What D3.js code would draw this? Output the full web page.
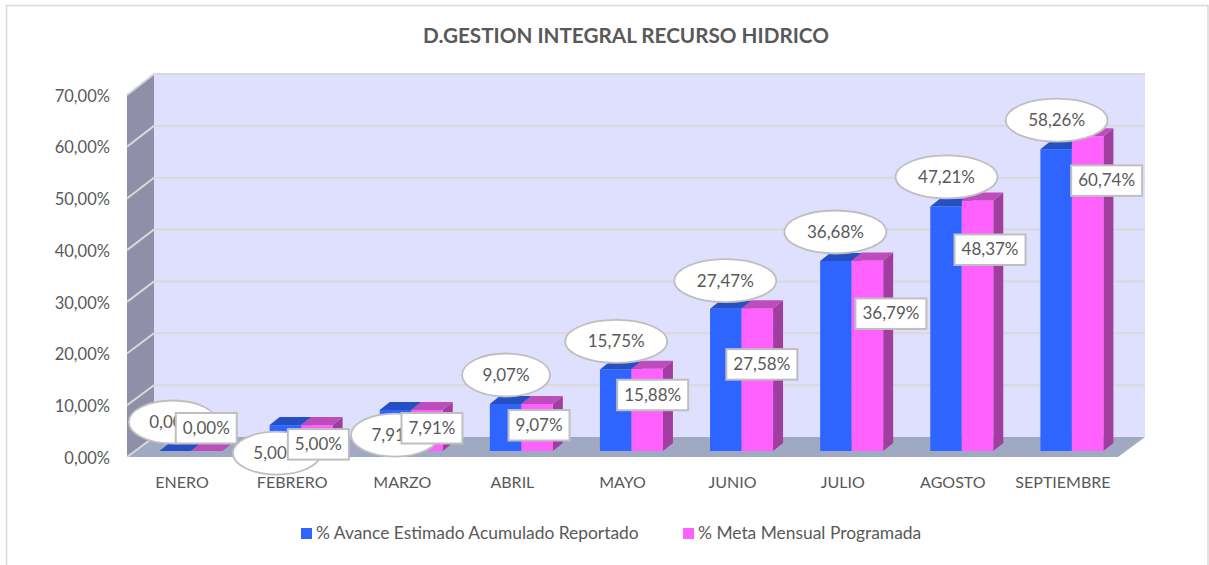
<!DOCTYPE html>
<html><head><meta charset="utf-8">
<style>html,body{margin:0;padding:0;background:#fff}svg{display:block}text{font-family:Lato,Carlito,sans-serif;fill:#595959}</style>
<script src="https://cdn.jsdelivr.net/npm/d3@7"></script></head>
<body><svg id="c" width="1209" height="565"></svg>
<script>
const months=["ENERO","FEBRERO","MARZO","ABRIL","MAYO","JUNIO","JULIO","AGOSTO","SEPTIEMBRE"];
const avance=[0,5,7.91,9.07,15.75,27.47,36.68,47.21,58.26];
const meta=[0,5,7.91,9.07,15.88,27.58,36.79,48.37,60.74];
const yTicks=[0,10,20,30,40,50,60,70];
const seriesNames=["% Avance Estimado Acumulado Reportado","% Meta Mensual Programada"];
const titleText="D.GESTION INTEGRAL RECURSO HIDRICO";
// hand-placed label offsets, relative to the top of each bar
const ellipseNudge=[[-3,-29],[-9,28],[-1,25],[0,-29],[0,-28],[-1,-28],[-1,-29],[0,-29.5],[0,-29]];
const boxNudge=[[-1,-23],[1,19],[4.5,18],[1.5,21],[5,26],[4,56],[23,53],[12,49],[18.5,44]];

const svg=d3.select("#c");
const fmt=d3.formatLocale({decimal:",",thousands:".",grouping:[3],currency:["",""]}).format(".2f");
const pct=v=>fmt(v)+"%";
const L=127,R=1118,DX=27;
const x=d3.scaleBand().domain(months).range([L,R]);
const y=d3.scaleLinear().domain([0,70]).range([457,95]);
const yb=d3.scaleLinear().domain([0,70]).range([437,74]);
const yBar=d3.scaleLinear().domain([0,70]).range([451,88.4]);
const barW=31.5,dp=[10,-8];
const poly=p=>p.map(d=>d.join(",")).join(" ");

svg.append("rect").attr("x",6.5).attr("y",5.5).attr("width",1201.5).attr("height",570).attr("fill","#fff").attr("stroke","#d9d9d9").attr("stroke-width",1.5);
// title
svg.append("text").attr("x",626).attr("y",43).attr("text-anchor","middle").attr("font-size",20.7).attr("font-weight",700).text(titleText);
// walls
svg.append("polygon").attr("points",poly([[L+DX,yb(70)],[R+DX,yb(70)],[R+DX,yb(0)],[L+DX,yb(0)]])).attr("fill","#dfdffe");
svg.append("polygon").attr("points",poly([[L,y(70)],[L+DX,yb(70)],[L+DX,yb(0)],[L,y(0)]])).attr("fill","#8f8fa9");
svg.append("polygon").attr("points",poly([[L,y(0)],[L+DX,yb(0)],[R+DX,yb(0)],[R,y(0)]])).attr("fill","#9fa9c1");
// grid
const g=svg.append("g").attr("fill","none").attr("stroke","#d9d9d9").attr("stroke-width",2);
yTicks.forEach(t=>{
  g.append("polyline").attr("points",poly([[L,y(t)],[L+DX,yb(t)],[R+DX,yb(t)]].slice(0,t===0?2:3)));
});
// axes
const ya=svg.append("g").attr("transform",`translate(${L-17},1)`)
  .call(d3.axisLeft(y).tickValues(yTicks).tickSize(0).tickPadding(0).tickFormat(pct));
ya.select(".domain").remove();
ya.selectAll("text").attr("font-size",16.5).style("font-family","Lato,Carlito,sans-serif").attr("fill","#595959");
const xa=svg.append("g").attr("transform","translate(0,475)")
  .call(d3.axisBottom(x).tickSize(0).tickPadding(0));
xa.select(".domain").remove();
xa.selectAll("text").attr("font-size",16).attr("dy","0.8em").style("font-family","Lato,Carlito,sans-serif").attr("fill","#595959");

// bars
const colors=[{f:"#2e64ff",t:"#2450c3",s:"#2149b0"},{f:"#ff61ff",t:"#bd4cbd",s:"#a03ea0"}];
function bar(gp,x0,val,c){
  const t=yBar(val),b=yBar(0);
  gp.append("polygon").attr("points",poly([[x0+barW,t],[x0+barW+dp[0],t+dp[1]],[x0+barW+dp[0],b+dp[1]],[x0+barW,b]])).attr("fill",c.s);
  gp.append("rect").attr("x",x0).attr("y",t).attr("width",barW).attr("height",b-t).attr("fill",c.f);
  gp.append("polygon").attr("points",poly([[x0,t],[x0+dp[0],t+dp[1]],[x0+barW+dp[0],t+dp[1]],[x0+barW,t]])).attr("fill",c.t);
}
const barsG=svg.append("g");
months.forEach((m,i)=>{
  const gp=barsG.append("g");
  const x0=x(m)+32.5;
  bar(gp,x0,avance[i],colors[0]);
  bar(gp,x0+barW,meta[i],colors[1]);
});
// labels
const lab=svg.append("g");
months.forEach((m,i)=>{
  const x0=x(m)+33;
  const wide=avance[i]>=10;
  const ex=x0+barW/2+ellipseNudge[i][0], ey=yBar(avance[i])+ellipseNudge[i][1];
  lab.append("ellipse").attr("cx",ex).attr("cy",ey).attr("rx",wide?51:44).attr("ry",21.5).attr("fill","#fff").attr("stroke","#bfbfbf").attr("stroke-width",1.8);
  lab.append("text").attr("x",ex).attr("y",ey+6).attr("text-anchor","middle").attr("font-size",17).text(pct(avance[i]));
});
months.forEach((m,i)=>{
  const x0=x(m)+33;
  const w=meta[i]>=10?71:61;
  const bx=x0+barW*1.5+boxNudge[i][0], by=yBar(meta[i])+boxNudge[i][1];
  lab.append("rect").attr("x",bx-w/2).attr("y",by-15).attr("width",w).attr("height",30.5).attr("fill","#fff").attr("stroke","#bfbfbf").attr("stroke-width",2);
  lab.append("text").attr("x",bx).attr("y",by+6).attr("text-anchor","middle").attr("font-size",17).text(pct(meta[i]));
});
// legend
[[301,316],[683,698]].forEach((p,i)=>{
  svg.append("rect").attr("x",p[0]).attr("y",528).attr("width",11).attr("height",11).attr("fill",colors[i].f);
  svg.append("text").attr("x",p[1]).attr("y",539).attr("font-size",17.4).text(seriesNames[i]);
});
</script></body></html>
